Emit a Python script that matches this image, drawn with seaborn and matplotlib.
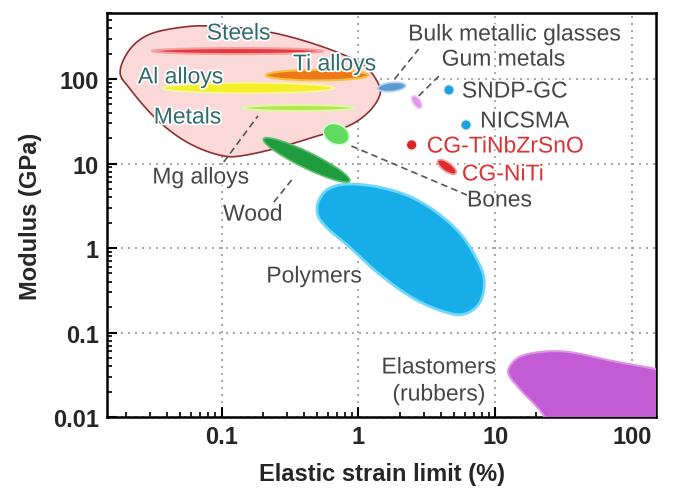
import numpy as np
import pandas as pd
import matplotlib
matplotlib.use("Agg")
import matplotlib.pyplot as plt
import seaborn as sns
from matplotlib.patches import Ellipse
from matplotlib.transforms import ScaledTranslation
import matplotlib.patheffects as pe

# ---------------- data (strain limit %, modulus GPa) ----------------
metals_strain = [0.0181, 0.0214, 0.0301, 0.0526, 0.0830, 0.163, 0.321, 0.667, 1.107, 1.403,
                 1.426, 1.186, 0.843, 0.474, 0.241, 0.138, 0.1035, 0.0702, 0.0474, 0.0316, 0.0214]
metals_modulus = [121, 226, 341, 412, 424, 391, 314, 214, 143, 87.3,
                  63.0, 40.6, 27.8, 20.6, 14.9, 12.3, 12.3, 14.9, 21.1, 36.5, 76.2]

polymers_strain = [0.508, 0.601, 0.843, 1.403, 2.333, 3.62, 5.43, 7.13, 8.30, 7.76,
                   6.01, 4.29, 2.58, 1.476, 0.843, 0.601, 0.508]
polymers_modulus = [3.50, 4.99, 5.71, 5.27, 4.12, 2.74, 1.545, 0.804, 0.430, 0.230,
                    0.166, 0.175, 0.249, 0.467, 1.057, 1.679, 2.39]

elast_strain = [12.7, 15.0, 21.1, 35.0, 72.4, 150, 333, 333, 31.1, 22.2, 15.8, 12.7]
elast_modulus = [0.0391, 0.0513, 0.0587, 0.0587, 0.0460, 0.0370, 0.0282, 0.0042,
                 0.0042, 0.0109, 0.0198, 0.0305]

band_names = ["Steels", "Ti alloys", "Al alloys", "Mg alloys"]
band_strain_min = [0.031, 0.211, 0.0368, 0.1426]
band_strain_max = [0.553, 1.186, 0.667, 0.936]
band_modulus = [214, 111, 78.2, 45.4]

lens_names = ["Wood", "Bones", "Bulk metallic glasses", "Gum metals", "CG-NiTi"]
lens_strain = [0.418, 0.689, 1.75, 2.67, 4.44]
lens_modulus = [11.0, 22.3, 80.4, 53.4, 9.1]

dot_names = ["SNDP-GC", "NICSMA", "CG-TiNbZrSnO"]
dot_strain = [4.59, 6.12, 2.45]
dot_modulus = [74.2, 28.6, 16.6]

leader_start_strain = [0.1035, 0.241, 0.889, 1.84, 2.76]
leader_start_modulus = [10.4, 3.50, 16.1, 100, 63.0]
leader_end_strain = [0.184, 0.338, 6.22, 2.76, 3.87]
leader_end_modulus = [36.5, 6.92, 4.24, 226, 108]

x_ticks = [0.1, 1, 10, 100]
x_ticklabels = ["0.1", "1", "10", "100"]
y_ticks = [0.01, 0.1, 1, 10, 100]
y_ticklabels = ["0.01", "0.1", "1", "10", "100"]

# ---------------- helpers ----------------
def smooth_closed(xs, ys, n=24):
    P = np.column_stack([np.log10(xs), np.log10(ys)])
    N = len(P)
    out = []
    t = np.linspace(0, 1, n, endpoint=False)[:, None]
    for i in range(N):
        p0, p1, p2, p3 = P[i - 1], P[i], P[(i + 1) % N], P[(i + 2) % N]
        pts = 0.5 * ((2 * p1) + (-p0 + p2) * t + (2 * p0 - 5 * p1 + 4 * p2 - p3) * t ** 2
                     + (-p0 + 3 * p1 - 3 * p2 + p3) * t ** 3)
        out.append(pts)
    out = np.vstack(out)
    return 10 ** out[:, 0], 10 ** out[:, 1]


def band_outline(xmin, xmax, ymid, half_dec):
    t = np.linspace(0, 2 * np.pi, 200)
    lx0, lx1 = np.log10(xmin), np.log10(xmax)
    c, a = (lx0 + lx1) / 2, (lx1 - lx0) / 2
    return 10 ** (c + a * np.cos(t)), 10 ** (np.log10(ymid) + half_dec * np.sin(t))


# ---------------- figure ----------------
sns.set_theme(style="ticks")
plt.rcParams["font.family"] = ["Liberation Sans", "DejaVu Sans"]

fig = plt.figure(figsize=(7.0, 5.02), dpi=100)
ax = fig.add_axes([0.1529, 0.1673, 0.7843, 0.8048])
ax.set_xscale("log")
ax.set_yscale("log")
ax.set_xlim(0.01452, 150)
ax.set_ylim(0.01, 604)

ax.set_axisbelow(True)
ax.grid(True, which="major", color="#9a9a9a", linestyle=(0, (1.2, 3)), linewidth=1.2)

# Metals envelope
mx, my = smooth_closed(metals_strain, metals_modulus)
ax.fill(mx, my, facecolor="#fbd9d9", edgecolor="#8e2f2f", linewidth=1.2, zorder=2)

# alloy bands
band_style = {
    "Steels": dict(half=0.036, fc="#e63a40", ec="#f4a0a0"),
    "Ti alloys": dict(half=0.062, fc="#ee7818", ec="#f6c23a"),
    "Al alloys": dict(half=0.062, fc="#f5ef2a", ec="#f8f4a0"),
    "Mg alloys": dict(half=0.036, fc="#b6e64e", ec="#e0f6a8"),
}
for nm, x0, x1, ym in zip(band_names, band_strain_min, band_strain_max, band_modulus):
    st = band_style[nm]
    bx, by = band_outline(x0, x1, ym, st["half"])
    ax.fill(bx, by, facecolor=st["fc"], edgecolor=st["ec"], linewidth=1.5, zorder=3)

# Polymers
px_, py_ = smooth_closed(polymers_strain, polymers_modulus)
ax.fill(px_, py_, facecolor="#a8e8fb", edgecolor="none", zorder=2.5)
ax.fill(px_, py_, facecolor="#17ade9", edgecolor="#6fd8fa", linewidth=2.0, zorder=3)

# Elastomers
ex, ey = smooth_closed(elast_strain, elast_modulus)
ax.fill(ex, ey, facecolor="#c35bd5", edgecolor="#df93e8", linewidth=1.5, zorder=3)

# rotated lens fields (size in inches on the page)
lens_style = {
    "Wood": dict(w=0.96, h=0.16, ang=-26, fc="#1f9c3e", ec="#5cc06a"),
    "Bones": dict(w=0.27, h=0.20, ang=-25, fc="#5fdc5f", ec="#d8f8d8"),
    "Bulk metallic glasses": dict(w=0.28, h=0.09, ang=6, fc="#5e9bd3", ec="#b8d4ee"),
    "Gum metals": dict(w=0.15, h=0.08, ang=-55, fc="#e397ea", ec="#f4d4f6"),
    "CG-NiTi": dict(w=0.22, h=0.09, ang=-35, fc="#e12a2a", ec="#f0a0a0"),
}
for nm, sx, sy in zip(lens_names, lens_strain, lens_modulus):
    st = lens_style[nm]
    tr = fig.dpi_scale_trans + ScaledTranslation(sx, sy, ax.transData)
    e = Ellipse((0, 0), st["w"], st["h"], angle=st["ang"], transform=tr,
                facecolor=st["fc"], edgecolor=st["ec"], linewidth=1.2, zorder=4)
    ax.add_patch(e)

# dots via seaborn
dots = pd.DataFrame({"name": dot_names, "strain": dot_strain, "modulus": dot_modulus})
sns.scatterplot(data=dots, x="strain", y="modulus", hue="name",
                palette={"SNDP-GC": "#1ea3e2", "NICSMA": "#1ea3e2", "CG-TiNbZrSnO": "#e02222"},
                s=55, edgecolor="#f0f0f0", linewidth=0.8, legend=False, ax=ax, zorder=5)

# leader lines
for x0, y0, x1, y1 in zip(leader_start_strain, leader_start_modulus,
                          leader_end_strain, leader_end_modulus):
    ax.plot([x0, x1], [y0, y1], color="#555555", linestyle=(0, (4, 2.5)), linewidth=1.2, zorder=4)

# labels
glow = [pe.withStroke(linewidth=2.5, foreground="white")]
teal = "#2f6c6e"
grey = "#464646"
red = "#d83434"
fs = 16.5
labels = [
    ("Steels", 0.133, 350, teal, "center"),
    ("Ti alloys", 0.667, 151, teal, "center"),
    ("Al alloys", 0.050, 106, teal, "center"),
    ("Metals", 0.0562, 35.5, teal, "center"),
    ("Mg alloys", 0.0702, 6.92, grey, "center"),
    ("Wood", 0.169, 2.52, grey, "center"),
    ("Polymers", 0.474, 0.467, grey, "center"),
    ("Bones", 6.22, 3.70, grey, "left"),
    ("Bulk metallic glasses", 13.8, 341, grey, "center"),
    ("Gum metals", 11.5, 172, grey, "center"),
    ("SNDP-GC", 5.71, 72.1, grey, "left"),
    ("NICSMA", 7.76, 31.9, grey, "left"),
    ("CG-TiNbZrSnO", 3.16, 16.1, red, "left"),
    ("CG-NiTi", 5.71, 7.52, red, "left"),
    ("Elastomers", 3.87, 0.0391, grey, "center"),
    ("(rubbers)", 3.87, 0.0187, grey, "center"),
]
for txt, x, y, c, ha in labels:
    ax.text(x, y, txt, color=c, fontsize=fs, ha=ha, va="center", zorder=6,
            path_effects=glow)

# axes styling
ax.set_xticks(x_ticks)
ax.set_xticklabels(x_ticklabels)
ax.set_yticks(y_ticks)
ax.set_yticklabels(y_ticklabels)
ax.xaxis.set_minor_locator(matplotlib.ticker.LogLocator(base=10, subs=np.arange(2, 10)))
ax.yaxis.set_minor_locator(matplotlib.ticker.LogLocator(base=10, subs=np.arange(2, 10)))
ax.xaxis.set_minor_formatter(matplotlib.ticker.NullFormatter())
ax.yaxis.set_minor_formatter(matplotlib.ticker.NullFormatter())
ax.tick_params(which="major", direction="in", length=7, width=1.5, color="black",
               labelsize=17, pad=6, top=False, right=False)
ax.tick_params(which="minor", direction="in", length=3.5, width=1.2, color="black",
               top=False, right=False)
for lab in ax.get_xticklabels() + ax.get_yticklabels():
    lab.set_fontweight("bold")
for sp in ax.spines.values():
    sp.set_visible(True)
    sp.set_linewidth(1.8)
    sp.set_color("black")
ax.set_xlabel("Elastic strain limit (%)", fontsize=17, fontweight="bold", labelpad=10)
ax.set_ylabel("Modulus (GPa)", fontsize=17, fontweight="bold", labelpad=8)

fig.savefig("out.png", dpi=100, facecolor="white")
